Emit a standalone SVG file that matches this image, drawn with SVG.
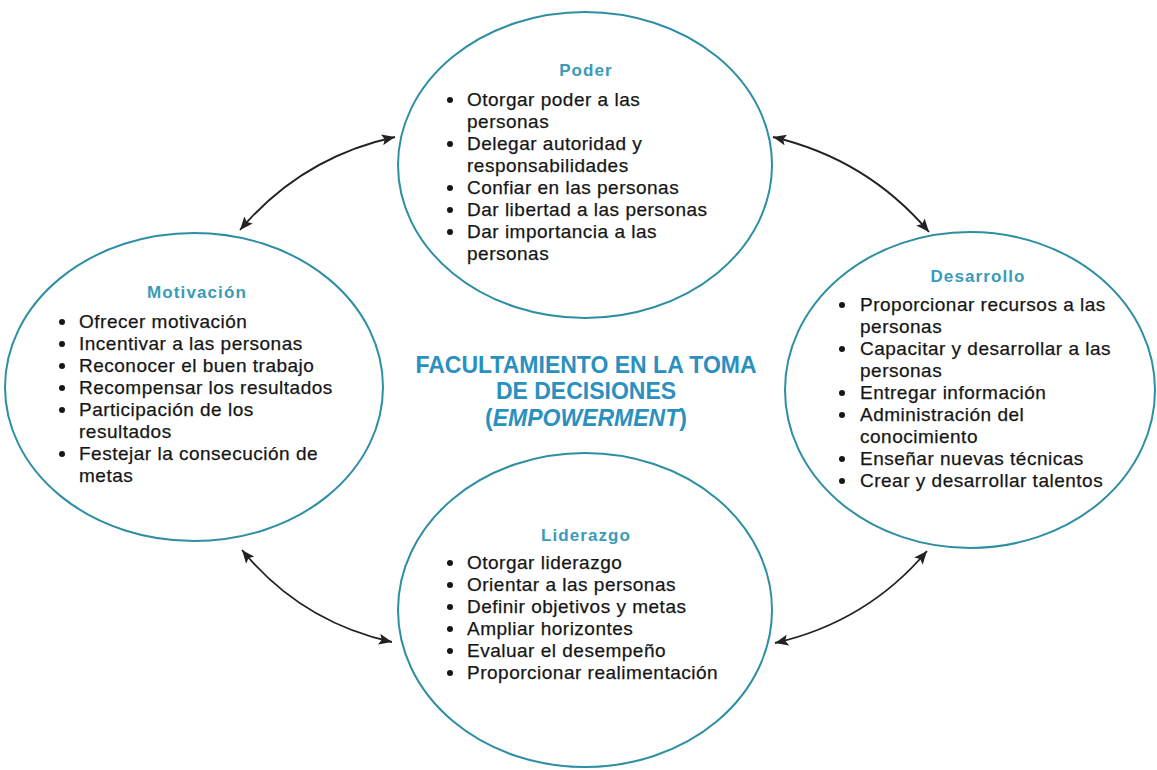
<svg xmlns="http://www.w3.org/2000/svg" width="1157" height="770" viewBox="0 0 1157 770">
  <style>
    .ring { fill: #ffffff; stroke: #2e8ea3; stroke-width: 2; }
    .head { font-family: "Liberation Sans", Arial, sans-serif; font-weight: bold; font-size: 17px; letter-spacing: 1.1px; fill: #3a9bb8; text-anchor: middle; }
    .item { font-family: "Liberation Sans", Arial, sans-serif; font-size: 19px; letter-spacing: 0.5px; fill: #161616; stroke: #161616; stroke-width: 0.25px; }
    .dot { fill: #161616; }
    .core { font-family: "Liberation Sans", Arial, sans-serif; font-weight: bold; font-size: 23px; fill: #2a90bf; text-anchor: middle; }
    .link { fill: none; stroke: #222222; stroke-width: 1.8; marker-start: url(#tip); marker-end: url(#tip); }
  </style>
  <defs>
    <marker id="tip" viewBox="0 0 12 10" refX="12" refY="5" markerWidth="14" markerHeight="11" markerUnits="userSpaceOnUse" orient="auto-start-reverse">
      <path d="M0,0 L12,5 L0,10 L2.5,5 z" fill="#222222"/>
    </marker>
  </defs>

  <rect width="1157" height="770" fill="#ffffff"/>

  <!-- two-headed curved links between the four circles -->
  <g id="connectors">
    <path class="link" d="M395,137 Q302,157 240,230"/>
    <path class="link" d="M773,137 Q867,159 929,232"/>
    <path class="link" d="M242,550 Q301,622 392,642"/>
    <path class="link" d="M927,551 Q867,622 775,643"/>
  </g>

  <!-- central caption -->
  <g id="center">
    <text class="core" x="586" y="373">FACULTAMIENTO EN LA TOMA</text>
    <text class="core" x="586" y="399">DE DECISIONES</text>
    <text class="core" x="586" y="426">(<tspan font-style="italic">EMPOWERMENT</tspan>)</text>
  </g>

  <!-- top: Poder -->
  <g id="poder">
    <ellipse class="ring" cx="585" cy="165" rx="187" ry="153"/>
    <text class="head" x="586" y="76">Poder</text>
    <circle class="dot" cx="450" cy="100" r="3"/>
    <text class="item" x="467" y="106">Otorgar poder a las</text>
    <text class="item" x="467" y="128">personas</text>
    <circle class="dot" cx="450" cy="144" r="3"/>
    <text class="item" x="467" y="150">Delegar autoridad y</text>
    <text class="item" x="467" y="172">responsabilidades</text>
    <circle class="dot" cx="450" cy="188" r="3"/>
    <text class="item" x="467" y="194">Confiar en las personas</text>
    <circle class="dot" cx="450" cy="210" r="3"/>
    <text class="item" x="467" y="216">Dar libertad a las personas</text>
    <circle class="dot" cx="450" cy="232" r="3"/>
    <text class="item" x="467" y="238">Dar importancia a las</text>
    <text class="item" x="467" y="260">personas</text>
  </g>

  <!-- left: Motivación -->
  <g id="motivacion">
    <ellipse class="ring" cx="194" cy="387" rx="189" ry="154"/>
    <text class="head" x="197" y="298">Motivación</text>
    <circle class="dot" cx="62" cy="322" r="3"/>
    <text class="item" x="79" y="328">Ofrecer motivación</text>
    <circle class="dot" cx="62" cy="344" r="3"/>
    <text class="item" x="79" y="350">Incentivar a las personas</text>
    <circle class="dot" cx="62" cy="366" r="3"/>
    <text class="item" x="79" y="372">Reconocer el buen trabajo</text>
    <circle class="dot" cx="62" cy="388" r="3"/>
    <text class="item" x="79" y="394">Recompensar los resultados</text>
    <circle class="dot" cx="62" cy="410" r="3"/>
    <text class="item" x="79" y="416">Participación de los</text>
    <text class="item" x="79" y="438">resultados</text>
    <circle class="dot" cx="62" cy="454" r="3"/>
    <text class="item" x="79" y="460">Festejar la consecución de</text>
    <text class="item" x="79" y="482">metas</text>
  </g>

  <!-- right: Desarrollo -->
  <g id="desarrollo">
    <ellipse class="ring" cx="970" cy="390" rx="185" ry="158"/>
    <text class="head" x="978" y="282">Desarrollo</text>
    <circle class="dot" cx="842" cy="305" r="3"/>
    <text class="item" x="860" y="311">Proporcionar recursos a las</text>
    <text class="item" x="860" y="333">personas</text>
    <circle class="dot" cx="842" cy="349" r="3"/>
    <text class="item" x="860" y="355">Capacitar y desarrollar a las</text>
    <text class="item" x="860" y="377">personas</text>
    <circle class="dot" cx="842" cy="393" r="3"/>
    <text class="item" x="860" y="399">Entregar información</text>
    <circle class="dot" cx="842" cy="415" r="3"/>
    <text class="item" x="860" y="421">Administración del</text>
    <text class="item" x="860" y="443">conocimiento</text>
    <circle class="dot" cx="842" cy="459" r="3"/>
    <text class="item" x="860" y="465">Enseñar nuevas técnicas</text>
    <circle class="dot" cx="842" cy="481" r="3"/>
    <text class="item" x="860" y="487">Crear y desarrollar talentos</text>
  </g>

  <!-- bottom: Liderazgo -->
  <g id="liderazgo">
    <ellipse class="ring" cx="585" cy="610" rx="187" ry="157"/>
    <text class="head" x="586" y="541">Liderazgo</text>
    <circle class="dot" cx="450" cy="563" r="3"/>
    <text class="item" x="467" y="569">Otorgar liderazgo</text>
    <circle class="dot" cx="450" cy="585" r="3"/>
    <text class="item" x="467" y="591">Orientar a las personas</text>
    <circle class="dot" cx="450" cy="607" r="3"/>
    <text class="item" x="467" y="613">Definir objetivos y metas</text>
    <circle class="dot" cx="450" cy="629" r="3"/>
    <text class="item" x="467" y="635">Ampliar horizontes</text>
    <circle class="dot" cx="450" cy="651" r="3"/>
    <text class="item" x="467" y="657">Evaluar el desempeño</text>
    <circle class="dot" cx="450" cy="673" r="3"/>
    <text class="item" x="467" y="679">Proporcionar realimentación</text>
  </g>
</svg>
